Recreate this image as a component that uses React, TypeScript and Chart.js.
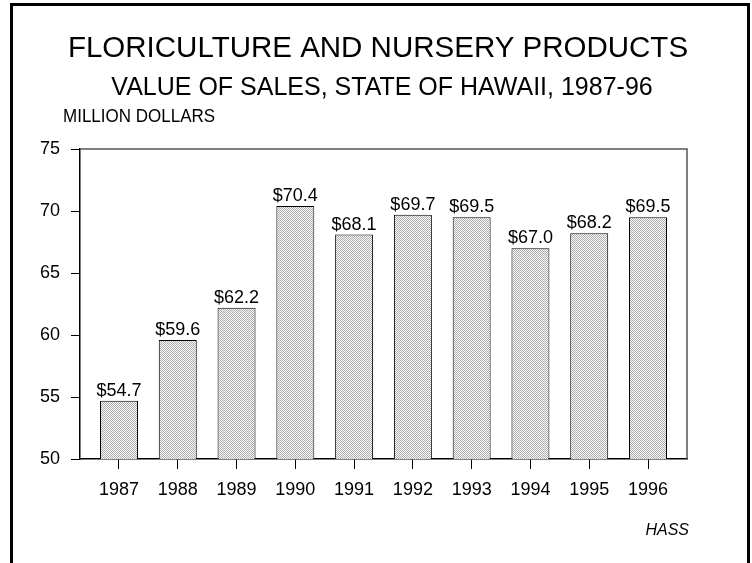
import { useEffect, useRef } from 'react';
import { Chart, registerables } from 'chart.js';

Chart.register(...registerables);

const years = [1987, 1988, 1989, 1990, 1991, 1992, 1993, 1994, 1995, 1996];
const sales = [54.7, 59.6, 62.2, 70.4, 68.1, 69.7, 69.5, 67.0, 68.2, 69.5];
const valueLabels = sales.map((v) => '$' + v.toFixed(1));
const yTicks = [50, 55, 60, 65, 70, 75];

const titleText = 'FLORICULTURE AND NURSERY PRODUCTS';
const subtitleText = 'VALUE OF SALES, STATE OF HAWAII, 1987-96';
const unitText = 'MILLION DOLLARS';
const sourceText = 'HASS';

const FONT = '"Liberation Sans", Arial, Helvetica, sans-serif';

export default function App() {
  const canvasRef = useRef<HTMLCanvasElement | null>(null);

  useEffect(() => {
    const canvas = canvasRef.current;
    if (!canvas) return;
    const ctx = canvas.getContext('2d')!;

    const pc = document.createElement('canvas');
    pc.width = 2;
    pc.height = 2;
    const pg = pc.getContext('2d')!;
    pg.fillStyle = '#fafafa';
    pg.fillRect(0, 0, 2, 2);
    pg.fillStyle = '#adadad';
    pg.fillRect(0, 0, 1, 1);
    pg.fillRect(1, 1, 1, 1);
    const pattern = ctx.createPattern(pc, 'repeat');

    const decor = {
      id: 'decor',
      beforeDraw(chart: any) {
        const c = chart.ctx;
        c.save();
        c.fillStyle = '#fff';
        c.fillRect(0, 0, chart.width, chart.height);
        c.restore();
      },
      afterDraw(chart: any) {
        const c = chart.ctx;
        const { left, top, right, bottom } = chart.chartArea;
        c.save();
        // top & right plot border
        c.strokeStyle = '#555';
        c.lineWidth = 1.5;
        c.beginPath();
        c.moveTo(left, top);
        c.lineTo(right, top);
        c.lineTo(right, bottom);
        c.stroke();

        // value labels
        c.fillStyle = '#000';
        c.font = `18px ${FONT}`;
        c.textAlign = 'center';
        c.textBaseline = 'alphabetic';
        const meta = chart.getDatasetMeta(0);
        meta.data.forEach((bar: any, i: number) => {
          c.fillText(valueLabels[i], bar.x, bar.y - 5);
        });

        // titles
        c.font = `29.5px ${FONT}`;
        c.fillText(titleText, 378, 57);
        c.font = `25px ${FONT}`;
        c.fillText(subtitleText, 382, 95);
        c.textAlign = 'left';
        c.font = `17px ${FONT}`;
        c.save();
        c.translate(63, 122);
        c.scale(1, 1.12);
        c.fillText(unitText, 0, 0);
        c.restore();
        c.textAlign = 'right';
        c.font = `italic 16px ${FONT}`;
        c.fillText(sourceText, 689, 535);

        // outer frame
        c.strokeStyle = '#000';
        c.lineWidth = 3;
        c.beginPath();
        c.moveTo(11.5, 570);
        c.lineTo(11.5, 4.5);
        c.lineTo(748.5, 4.5);
        c.lineTo(748.5, 570);
        c.stroke();
        c.restore();
      },
    };

    const chart = new Chart(ctx, {
      type: 'bar',
      data: {
        datasets: [
          {
            data: years.map((x, i) => ({ x, y: sales[i] })) as any,
            backgroundColor: pattern as any,
            borderColor: '#000',
            borderWidth: 1,
            barPercentage: 0.646,
            categoryPercentage: 1,
          },
        ],
      },
      options: {
        responsive: false,
        animation: false,
        events: [],
        layout: { padding: { left: 0, right: 65, top: 149, bottom: 64 } },
        plugins: {
          legend: { display: false },
          title: { display: false },
          tooltip: { enabled: false },
        },
        scales: {
          x: {
            type: 'linear',
            min: 1986.3365,
            max: 1996.6635,
            offset: false,
            afterBuildTicks: (s: any) => {
              s.ticks = years.map((v) => ({ value: v }));
            },
            afterFit: (s: any) => {
              s.height = 40;
            },
            grid: { drawOnChartArea: false, offset: false, tickLength: 10, color: '#000', lineWidth: 1 },
            border: { display: true, color: '#000', width: 1.5 },
            ticks: {
              color: '#000',
              font: { family: FONT, size: 18 },
              padding: 10,
              maxRotation: 0,
              autoSkip: false,
              callback: (v: any) => String(v),
            },
          },
          y: {
            type: 'linear',
            min: 50,
            max: 75,
            afterBuildTicks: (s: any) => {
              s.ticks = yTicks.map((v) => ({ value: v }));
            },
            afterFit: (s: any) => {
              s.width = 80;
            },
            grid: { drawOnChartArea: false, tickLength: 9, color: '#000', lineWidth: 1 },
            border: { display: true, color: '#000', width: 1.5 },
            ticks: {
              color: '#000',
              font: { family: FONT, size: 18 },
              padding: 11,
              callback: (v: any) => String(v),
            },
          },
        },
      } as any,
      plugins: [decor],
    });

    return () => chart.destroy();
  }, []);

  return (
    <div style={{ position: 'absolute', left: 0, top: 0, width: 752, height: 563 }}>
      <canvas ref={canvasRef} width={752} height={563} />
    </div>
  );
}
